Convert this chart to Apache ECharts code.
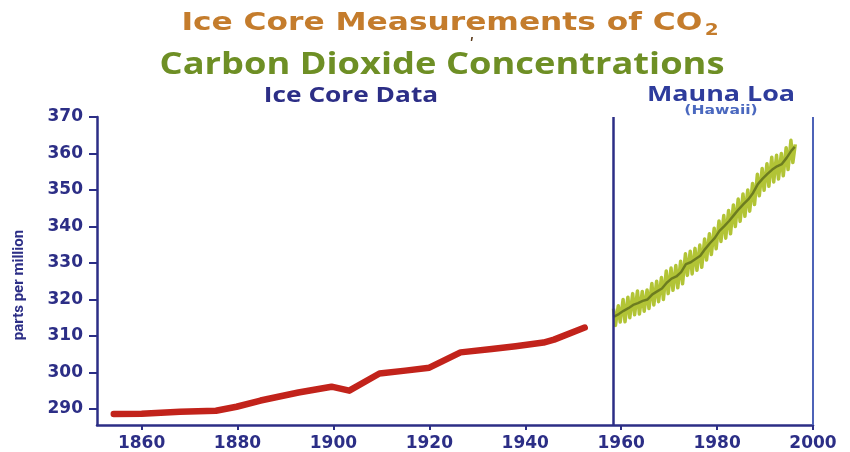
<!DOCTYPE html>
<html>
<head>
<meta charset="utf-8">
<script src="https://cdn.jsdelivr.net/npm/echarts@6/dist/echarts.min.js"></script>
<style>
html,body{margin:0;padding:0;background:#fff;}
#chart{width:850px;height:452px;}
</style>
</head>
<body>
<div id="chart"></div>
<script>
// ---- data ----
var xTicks = [1860, 1880, 1900, 1920, 1940, 1960, 1980, 2000];
var yTicks = [290, 300, 310, 320, 330, 340, 350, 360, 370];

// Ice core record (year, ppm)
var iceYears  = [1854.2, 1860, 1868, 1875.5, 1879.8, 1884.8, 1892.7, 1899.6, 1903.3, 1909.6, 1915, 1920, 1926.5, 1933, 1938, 1943.8, 1946, 1952.4];
var iceValues = [288.6, 288.7, 289.2, 289.5, 290.6, 292.3, 294.5, 296.1, 295.0, 299.7, 300.5, 301.3, 305.5, 306.4, 307.2, 308.2, 309.0, 312.3];

// Mauna Loa record: seasonal highs and lows (year, ppm)
var mloYears = [
  1958.4, 1958.8,
  1959.4, 1959.8, 1960.4, 1960.8, 1961.4, 1961.8, 1962.4, 1962.8,
  1963.4, 1963.8, 1964.4, 1964.8, 1965.4, 1965.8, 1966.4, 1966.8,
  1967.4, 1967.8, 1968.4, 1968.8, 1969.4, 1969.8, 1970.4, 1970.8,
  1971.4, 1971.8, 1972.4, 1972.8, 1973.4, 1973.8, 1974.4, 1974.8,
  1975.4, 1975.8, 1976.4, 1976.8, 1977.4, 1977.8, 1978.4, 1978.8,
  1979.4, 1979.8, 1980.4, 1980.8, 1981.4, 1981.8, 1982.4, 1982.8,
  1983.4, 1983.8, 1984.4, 1984.8, 1985.4, 1985.8, 1986.4, 1986.8,
  1987.4, 1987.8, 1988.4, 1988.8, 1989.4, 1989.8, 1990.4, 1990.8,
  1991.4, 1991.8, 1992.4, 1992.8, 1993.4, 1993.8, 1994.4, 1994.8,
  1995.4, 1995.8, 1996.3
];
var mloValues = [
  317.5, 312.9,
  318.3, 313.8, 320.0, 313.9, 320.6, 315.0, 321.6, 315.8,
  322.3, 316.0, 322.2, 316.8, 322.6, 317.5, 324.4, 318.5,
  325.0, 319.4, 326.0, 320.0, 327.8, 321.6, 328.6, 322.5,
  329.3, 323.2, 330.5, 324.3, 332.5, 326.6, 333.2, 327.0,
  334.0, 328.0, 334.9, 328.8, 336.6, 330.8, 338.0, 332.3,
  339.5, 333.9, 341.5, 335.9, 343.0, 336.8, 344.4, 338.0,
  345.9, 340.0, 347.5, 341.4, 348.9, 342.8, 350.0, 344.2,
  351.8, 346.0, 354.3, 348.4, 355.9, 349.9, 357.2, 351.0,
  359.0, 352.2, 359.5, 353.0, 360.0, 353.9, 361.6, 355.6,
  363.6, 357.5, 362.5
];
// Mauna Loa yearly means (darker core of the band)
var mloMeanYears  = [1958.5, 1959.5, 1960.5, 1961.5, 1962.5, 1963.5, 1964.5, 1965.5, 1966.5, 1967.5, 1968.5, 1969.5, 1970.5, 1971.5, 1972.5, 1973.5, 1974.5, 1975.5, 1976.5, 1977.5, 1978.5, 1979.5, 1980.5, 1981.5, 1982.5, 1983.5, 1984.5, 1985.5, 1986.5, 1987.5, 1988.5, 1989.5, 1990.5, 1991.5, 1992.5, 1993.5, 1994.5, 1995.5, 1996.2];
var mloMeanValues = [315.3, 316.0, 316.9, 317.6, 318.5, 319.0, 319.6, 320.0, 321.4, 322.2, 323.0, 324.6, 325.7, 326.3, 327.5, 329.7, 330.2, 331.1, 332.0, 333.8, 335.4, 336.8, 338.8, 340.1, 341.5, 343.1, 344.7, 346.1, 347.4, 349.2, 351.6, 353.1, 354.4, 355.6, 356.5, 357.1, 358.8, 360.8, 361.8];

var mloStart = 1958.4;   // vertical divider year
var xMin = 1850.7, xMax = 2000;
var yMin = 285.6, yMax = 370;

function pairs(xs, ys){ return xs.map(function(x,i){ return [x, ys[i]]; }); }

var navy = '#2c2e86';
var chart = echarts.init(document.getElementById('chart'), null, {renderer:'canvas'});
chart.setOption({
  backgroundColor: '#ffffff',
  animation: false,
  grid: {left: 97, right: 37, top: 117, bottom: 26},
  xAxis: {
    type: 'value', min: xMin, max: xMax,
    axisLine: {show: true, onZero: false, lineStyle: {color: navy, width: 2.5}},
    axisTick: {show: true, customValues: xTicks, length: 5, lineStyle: {color: navy, width: 2}},
    axisLabel: {customValues: xTicks, margin: 10, fontFamily: 'DejaVu Sans', fontWeight: 'bold', fontSize: 17, color: navy,
      formatter: function(v){ return String(v); }},
    splitLine: {show: false}
  },
  yAxis: {
    type: 'value', min: yMin, max: yMax,
    name: 'parts per million', nameLocation: 'middle', nameGap: 70, nameRotate: 90,
    nameTextStyle: {fontFamily: 'Roboto', fontWeight: 'bold', fontSize: 15, color: navy, padding: [0, 28, 0, 0]},
    axisLine: {show: true, onZero: false, lineStyle: {color: navy, width: 2.5}},
    axisTick: {show: true, customValues: yTicks, length: 8, lineStyle: {color: navy, width: 2}},
    axisLabel: {customValues: yTicks, margin: 14, fontFamily: 'DejaVu Sans', fontWeight: 'bold', fontSize: 17, color: navy,
      formatter: function(v){ return String(v); }},
    splitLine: {show: false}
  },
  series: [
    {
      type: 'line', data: pairs(iceYears, iceValues), symbol: 'none', silent: true,
      lineStyle: {color: '#c2231b', width: 6.5, cap: 'round', join: 'round'},
      markLine: {
        silent: true, symbol: 'none', label: {show: false},
        data: [
          [{coord: [mloStart, yMax], lineStyle: {color: navy, width: 2.5, type: 'solid'}}, {coord: [mloStart, yMin]}],
          [{coord: [xMax, yMax], lineStyle: {color: '#4e63b8', width: 2, type: 'solid'}}, {coord: [xMax, yMin]}]
        ]
      }
    },
    {
      type: 'line', data: pairs(mloYears, mloValues), symbol: 'none', silent: true,
      lineStyle: {color: '#b2c436', width: 3.5, join: 'round'}
    },
    {
      type: 'line', data: pairs(mloMeanYears, mloMeanValues), symbol: 'none', silent: true,
      lineStyle: {color: '#55661a', width: 2.5, opacity: 0.75}
    }
  ],
  graphic: [
    {type: 'text', x: 450, y: 23, scaleX: 1.25,
     style: {text: 'Ice Core Measurements of CO{s|2}', align: 'center', verticalAlign: 'middle',
       font: 'bold 25px "DejaVu Sans"', fill: '#c47c2c',
       rich: {s: {font: 'bold 16px "DejaVu Sans"', fill: '#c47c2c', padding: [16, 0, 0, 2]}}}},
    {type: 'text', x: 442, y: 65, scaleX: 1.17,
     style: {text: 'Carbon Dioxide Concentrations', align: 'center', verticalAlign: 'middle',
       font: 'bold 31px "Open Sans"', fill: '#6e8f25'}},
    {type: 'text', x: 351, y: 96, scaleX: 1.25,
     style: {text: 'Ice Core Data', align: 'center', verticalAlign: 'middle',
       font: 'bold 21px "Open Sans"', fill: navy}},
    {type: 'text', x: 721, y: 95, scaleX: 1.28,
     style: {text: 'Mauna Loa', align: 'center', verticalAlign: 'middle',
       font: 'bold 21px "Open Sans"', fill: '#2e3c9c'}},
    {type: 'text', x: 721, y: 111, scaleX: 1.3,
     style: {text: '(Hawaii)', align: 'center', verticalAlign: 'middle',
       font: 'bold 12px "DejaVu Sans"', fill: '#4a68bf'}},
    {type: 'text', x: 472, y: 46,
     style: {text: 'ʹ', align: 'center', verticalAlign: 'middle', font: 'bold 16px "DejaVu Sans"', fill: '#5a3a1a'}}
  ]
});
</script>
</body>
</html>
